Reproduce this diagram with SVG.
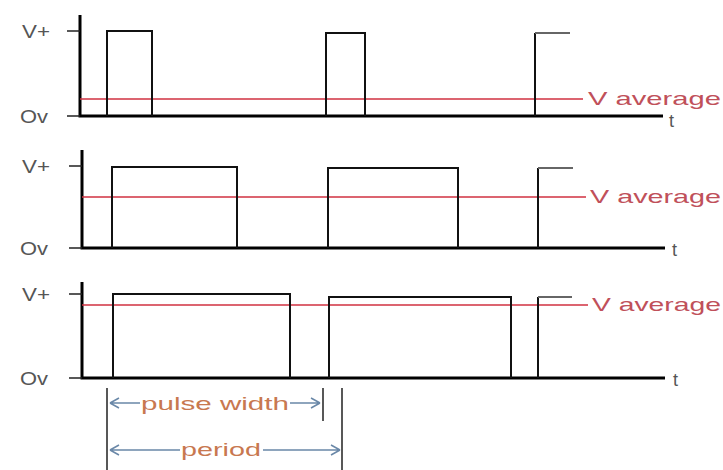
<svg xmlns="http://www.w3.org/2000/svg" width="723" height="470" viewBox="0 0 723 470">
<defs>
<style>
.lbl{font-family:"Liberation Sans",Arial,sans-serif;font-size:18px;fill:#555}
.avg{font-family:"Liberation Sans",Arial,sans-serif;font-size:19px;fill:#c0505a}
.dim{font-family:"Liberation Sans",Arial,sans-serif;font-size:19px;fill:#c87850}
.axis{stroke:#000;stroke-width:3;fill:none}
.tick{stroke:#222;stroke-width:1.5;fill:none}
.sig{stroke:#111;stroke-width:2;fill:none}
.tail{stroke:#666;stroke-width:2;fill:none}
.red{stroke:#d03040;stroke-width:1.5;fill:none}
.arr{stroke:#6a88a8;stroke-width:1.5;fill:none}
.vl{stroke:#222;stroke-width:1.5;fill:none}
</style>
</defs>
<rect width="723" height="470" fill="#fff"/>
<g id="panel1">
<path class="axis" d="M80 15 V116 H663"/>
<path class="tick" d="M67 31 H80 M67 116 H80"/>
<text class="lbl" x="22" y="38" textLength="28" lengthAdjust="spacingAndGlyphs">V+</text>
<text class="lbl" x="20" y="123" textLength="28" lengthAdjust="spacingAndGlyphs">Ov</text>
<path class="red" d="M80 99 H583"/>
<path class="sig" d="M107 116 V31 H152 V116 M326 116 V33 H365 V116 M535 116 V33"/>
<path class="tail" d="M535 33 H570"/>
<text class="avg" x="588" y="105" textLength="133" lengthAdjust="spacingAndGlyphs">V average</text>
<text class="lbl" x="669" y="127">t</text>
</g>
<g id="panel2">
<path class="axis" d="M82 150 V248 H665"/>
<path class="tick" d="M69 166 H82 M69 248 H82"/>
<text class="lbl" x="22" y="173" textLength="28" lengthAdjust="spacingAndGlyphs">V+</text>
<text class="lbl" x="20" y="255" textLength="28" lengthAdjust="spacingAndGlyphs">Ov</text>
<path class="red" d="M82 197 H586"/>
<path class="sig" d="M112 248 V167 H237 V248 M328 248 V168 H458 V248 M538 248 V168"/>
<path class="tail" d="M538 168 H573"/>
<text class="avg" x="590" y="203" textLength="131" lengthAdjust="spacingAndGlyphs">V average</text>
<text class="lbl" x="672" y="256">t</text>
</g>
<g id="panel3">
<path class="axis" d="M82 282 V378 H665"/>
<path class="tick" d="M69 294 H82 M69 378 H82"/>
<text class="lbl" x="22" y="301" textLength="28" lengthAdjust="spacingAndGlyphs">V+</text>
<text class="lbl" x="20" y="385" textLength="28" lengthAdjust="spacingAndGlyphs">Ov</text>
<path class="red" d="M82 305 H588"/>
<path class="sig" d="M113 378 V294 H290 V378 M329 378 V297 H511 V378 M538 378 V297"/>
<path class="tail" d="M538 297 H572"/>
<text class="avg" x="592" y="311" textLength="129" lengthAdjust="spacingAndGlyphs">V average</text>
<text class="lbl" x="673" y="386">t</text>
</g>
<g id="connectors">
<path class="vl" d="M107 388 V470 M323 388 V421 M342 388 V470"/>
<path class="arr" d="M110 403 H140 M290 403 H320 M110 403 l9 -5 M110 403 l9 5 M320 403 l-9 -5 M320 403 l-9 5"/>
<path class="arr" d="M110 450 H180 M263 450 H340 M110 450 l9 -5 M110 450 l9 5 M340 450 l-9 -5 M340 450 l-9 5"/>
</g>
<g id="dim-labels">
<text class="dim" x="141" y="410" textLength="148" lengthAdjust="spacingAndGlyphs">pulse width</text>
<text class="dim" x="181" y="456" textLength="80" lengthAdjust="spacingAndGlyphs">period</text>
</g>
</svg>
